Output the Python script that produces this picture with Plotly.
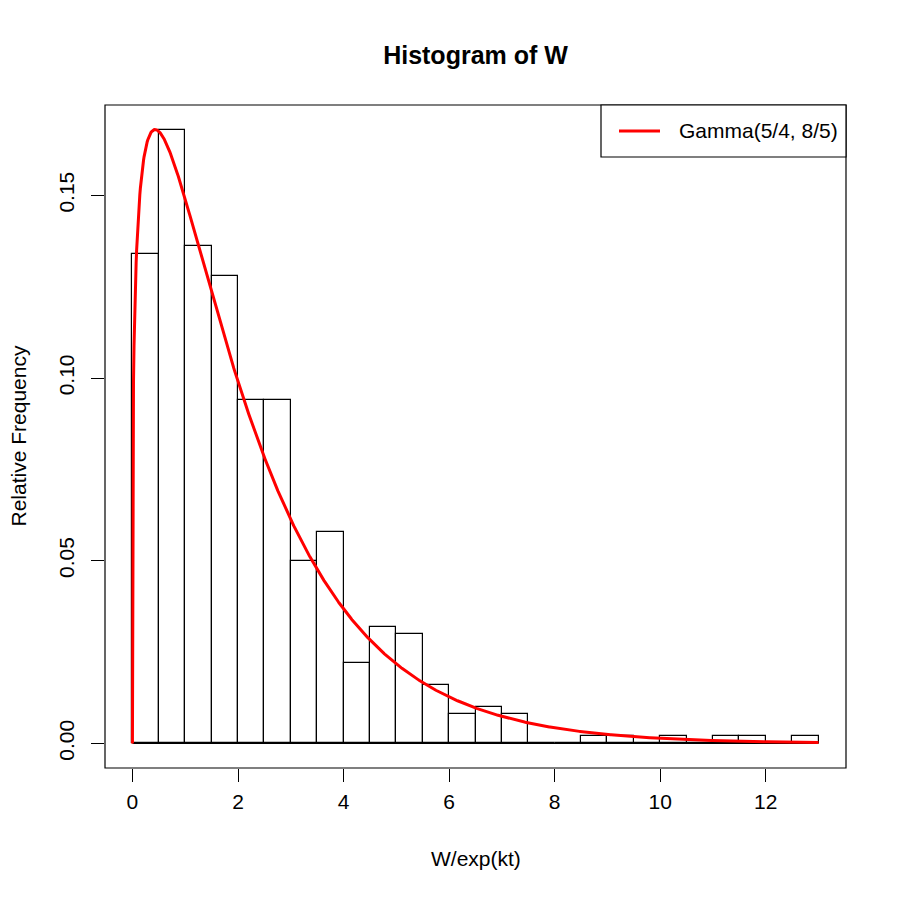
import math
import plotly.graph_objects as go

# ---- data ----
bin_width = 0.5
bin_left = [i * 0.5 for i in range(26)]          # 0.0, 0.5, ..., 12.5
rel_freq = [0.134, 0.168, 0.136, 0.128, 0.094, 0.094, 0.050, 0.058,
            0.022, 0.032, 0.030, 0.016, 0.008, 0.010, 0.008, 0.000,
            0.000, 0.002, 0.002, 0.000, 0.002, 0.000, 0.002, 0.002,
            0.000, 0.002]
x_ticks = [0, 2, 4, 6, 8, 10, 12]
y_ticks = [0.00, 0.05, 0.10, 0.15]
y_tick_labels = ["0.00", "0.05", "0.10", "0.15"]

# gamma-shaped density curve, fitted to the reference: shape, scale, peak height
gamma_shape = 1.25
gamma_scale = 1.72
curve_peak = 0.168
legend_label = "Gamma(5/4, 8/5)"

gamma_mode = (gamma_shape - 1) * gamma_scale

def gamma_curve(x):
    if x <= 0:
        return 0.0
    return curve_peak * (x / gamma_mode) ** (gamma_shape - 1) * \
        math.exp(-(x - gamma_mode) / gamma_scale)

x_end = bin_left[-1] + bin_width
curve_x = [i * x_end / 1300 for i in range(1301)]
curve_y = [gamma_curve(v) for v in curve_x]

bin_centers = [b + bin_width / 2 for b in bin_left]

FONT = "Liberation Sans, Arial, Helvetica, sans-serif"
FS = 21

fig = go.Figure()
fig.add_trace(go.Bar(
    x=bin_centers, y=rel_freq, width=bin_width,
    marker=dict(color="white", line=dict(color="black", width=1.2)),
    showlegend=False, hoverinfo="x+y"))
# baseline of empty bins
fig.add_trace(go.Scatter(
    x=[bin_left[0], x_end], y=[0, 0], mode="lines",
    line=dict(color="black", width=1.2), showlegend=False, hoverinfo="skip"))
fig.add_trace(go.Scatter(
    x=curve_x, y=curve_y, mode="lines", name=legend_label,
    line=dict(color="#ff0000", width=3), showlegend=False))

# page offset (browser body margin)
OFF = 8
W = H = 900
# plot box in page pixels: x 105..846, y 105..768
L, T = 105 - OFF, 105 - OFF
R, B = W - (846 - OFF), H - (768 - OFF)
pw, ph = W - L - R, H - T - B

def px_x(p):
    return (p - OFF - L) / pw

def px_y(p):
    return (H - B - (p - OFF)) / ph

shapes = [
    dict(type="rect", xref="paper", yref="paper", x0=0, y0=0, x1=1, y1=1,
         line=dict(color="black", width=1.2), fillcolor="rgba(0,0,0,0)", layer="above"),
    # legend box
    dict(type="rect", xref="paper", yref="paper",
         x0=px_x(601), x1=1, y0=px_y(157), y1=1,
         line=dict(color="black", width=1.2), fillcolor="white", layer="above"),
    dict(type="line", xref="paper", yref="paper",
         x0=px_x(619), x1=px_x(660), y0=px_y(131), y1=px_y(131),
         line=dict(color="#ff0000", width=3), layer="above"),
]

annotations = [
    dict(text=legend_label, xref="paper", yref="paper", x=px_x(677), y=px_y(131),
         xanchor="left", yanchor="middle", showarrow=False,
         font=dict(family=FONT, size=FS, color="black")),
    dict(text="W/exp(kt)", xref="paper", yref="paper", x=0.5, y=px_y(858),
         xanchor="center", yanchor="middle", showarrow=False,
         font=dict(family=FONT, size=FS, color="black")),
    dict(text="Relative Frequency", xref="paper", yref="paper", x=px_x(18), y=0.5,
         xanchor="center", yanchor="middle", textangle=-90, showarrow=False,
         font=dict(family=FONT, size=FS, color="black")),
]

fig.update_layout(
    width=W, height=H,
    margin=dict(l=L, r=R, t=T, b=B, autoexpand=False),
    paper_bgcolor="white", plot_bgcolor="white",
    title=dict(text="<b>Histogram of W</b>", x=0.5, xref="paper", xanchor="center",
               y=1 - (55 - OFF) / H, yanchor="middle", yref="container",
               font=dict(family=FONT, size=25, color="black")),
    font=dict(family=FONT, size=FS, color="black"),
    shapes=shapes, annotations=annotations,
    bargap=0, showlegend=False,
)
fig.update_xaxes(range=[-0.52, 13.52], tickvals=x_ticks, ticks="outside",
                 ticklen=13, tickwidth=1.2, tickcolor="black", showgrid=False,
                 zeroline=False, showline=False, tickfont=dict(size=FS),
                 ticklabelstandoff=2)
fig.update_yaxes(range=[-0.00672, 0.17472], tickvals=y_ticks, ticktext=y_tick_labels,
                 ticks="outside", ticklen=13, tickwidth=1.2, tickcolor="black",
                 showgrid=False, zeroline=False, showline=False, tickangle=-90,
                 tickfont=dict(size=FS), ticklabelstandoff=9)

fig.write_html("out.html")
